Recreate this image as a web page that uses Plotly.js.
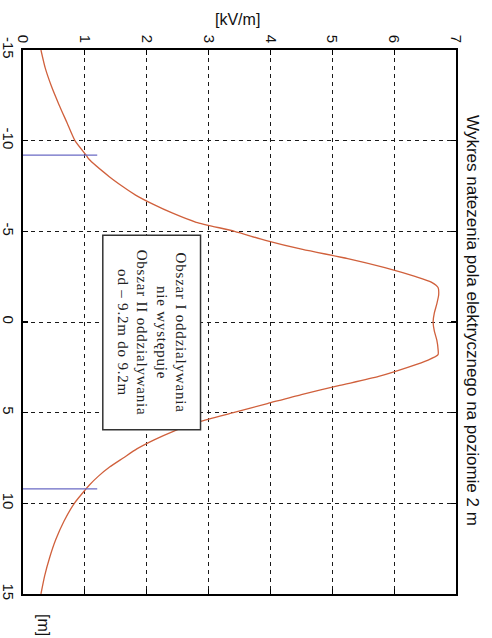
<!DOCTYPE html>
<html><head><meta charset="utf-8">
<script src="https://cdn.plot.ly/plotly-3.0.1.min.js"></script>
<style>html,body{margin:0;padding:0;background:#fff}#plot{width:492px;height:638px}
g.annotation[data-index="0"] text{letter-spacing:0.8px}</style>
</head><body><div id="plot"></div>
<script>
// position along the line [m]
const positions = [-15, -14, -13, -12, -11, -10, -9.2, -9, -8, -7.5, -7, -6.5, -6, -5.5, -5, -4.5, -4, -3.5, -3, -2.5, -2.2, -1.9, -1.5, -1, -0.5, 0, 0.5, 1, 1.5, 1.8, 2.1, 2.5, 3, 3.5, 4, 4.5, 5, 5.5, 6, 6.5, 7, 7.5, 8, 8.5, 9, 9.2, 10, 11, 12, 13, 14, 15];
// electric field strength [kV/m]
const fieldValues = [0.29, 0.36, 0.46, 0.58, 0.71, 0.84, 1.02, 1.06, 1.40, 1.60, 1.82, 2.10, 2.42, 2.80, 3.42, 3.92, 4.52, 5.25, 5.85, 6.35, 6.60, 6.71, 6.72, 6.69, 6.65, 6.63, 6.65, 6.69, 6.71, 6.71, 6.55, 6.22, 5.75, 5.12, 4.50, 3.95, 3.40, 2.85, 2.45, 2.12, 1.84, 1.62, 1.40, 1.22, 1.07, 1.02, 0.83, 0.66, 0.53, 0.43, 0.35, 0.29];
// zone boundaries (blue markers)
const zoneEdges = [-9.2, 9.2];
const zoneMarkerValues = [0, 1.2];
// tick values and labels
const fieldTicks = [0, 1, 2, 3, 4, 5, 6, 7];
const fieldTickLabels = ['0', '1', '2', '3', '4', '5', '6', '7'];
const positionTicks = [-15, -10, -5, 0, 5, 10, 15];
const positionTickLabels = ['-15', '-10', '-5', '0', '5', '10', '15'];
// texts
const titleText = 'Wykres natezenia pola elektrycznego na poziomie 2 m';
const fieldLabel = '[kV/m]';
const positionLabel = '[m]';
const boxLines = ['Obszar I oddzialywania', 'nie występuje', 'Obszar II oddzialywania', 'od – 9.2m do 9.2m'];
const boxExtent = {e0: 1.29, e1: 2.87, p0: -4.78, p1: 5.94};

const traces = [
  {x: fieldValues, y: positions, mode: 'lines', line: {color: '#d0603c', width: 1.3, shape: 'spline', smoothing: 0.6}, hoverinfo: 'skip'}
];
zoneEdges.forEach(p => traces.push({x: zoneMarkerValues, y: zoneMarkerValues.map(() => p), mode: 'lines', line: {color: '#6a6ac4', width: 1.3}, hoverinfo: 'skip'}));

const axisCommon = {
  showgrid: true, gridcolor: '#1a1a1a', gridwidth: 1, griddash: '4px,4px',
  showline: true, linecolor: '#000', linewidth: 1.6, mirror: 'ticks',
  ticks: 'inside', ticklen: 5, tickcolor: '#000', tickwidth: 1.2,
  zeroline: false, tickangle: 90, automargin: false,
  tickfont: {family: 'Liberation Sans, Arial, sans-serif', size: 15, color: '#111'}
};

const layout = {
  width: 492, height: 638,
  margin: {l: 23, r: 36, t: 50, b: 44, pad: 0},
  paper_bgcolor: '#fff', plot_bgcolor: '#fff',
  showlegend: false,
  xaxis: Object.assign({}, axisCommon, {range: [0, 7], side: 'top', tickvals: fieldTicks, ticktext: fieldTickLabels}),
  yaxis: Object.assign({}, axisCommon, {range: [15, -15], tickvals: positionTicks, ticktext: positionTickLabels}),
  shapes: [{type: 'rect', xref: 'x', yref: 'y', x0: boxExtent.e0, x1: boxExtent.e1, y0: boxExtent.p0, y1: boxExtent.p1,
    line: {color: '#333', width: 1.5}, fillcolor: '#fff', layer: 'above'}],
  annotations: [
    {x: (boxExtent.e0 + boxExtent.e1) / 2, y: (boxExtent.p0 + boxExtent.p1) / 2, xref: 'x', yref: 'y', showarrow: false,
      text: boxLines.join('<br>'), textangle: 90,
      font: {family: 'Liberation Serif, Times New Roman, serif', size: 15, color: '#222'}},
    {x: 473, y: 320, xref: 'paper', yref: 'paper', showarrow: false, text: titleText, textangle: 90,
      font: {family: 'Liberation Sans, Arial, sans-serif', size: 17, color: '#111'}},
    {x: 237, y: 20, xref: 'paper', yref: 'paper', showarrow: false, text: fieldLabel,
      font: {family: 'Liberation Sans, Arial, sans-serif', size: 16, color: '#111'}},
    {x: 44, y: 625, xref: 'paper', yref: 'paper', showarrow: false, text: positionLabel, textangle: 90,
      font: {family: 'Liberation Sans, Arial, sans-serif', size: 16, color: '#111'}}
  ]
};
// convert pixel positions of free annotations into paper coordinates
const plotW = layout.width - layout.margin.l - layout.margin.r;
const plotH = layout.height - layout.margin.t - layout.margin.b;
layout.annotations.slice(1).forEach(a => {
  a.x = (a.x - layout.margin.l) / plotW;
  a.y = 1 - (a.y - layout.margin.t) / plotH;
  a.xanchor = 'center'; a.yanchor = 'middle';
});

Plotly.newPlot('plot', traces, layout, {staticPlot: true, displayModeBar: false});
</script>
</body></html>
